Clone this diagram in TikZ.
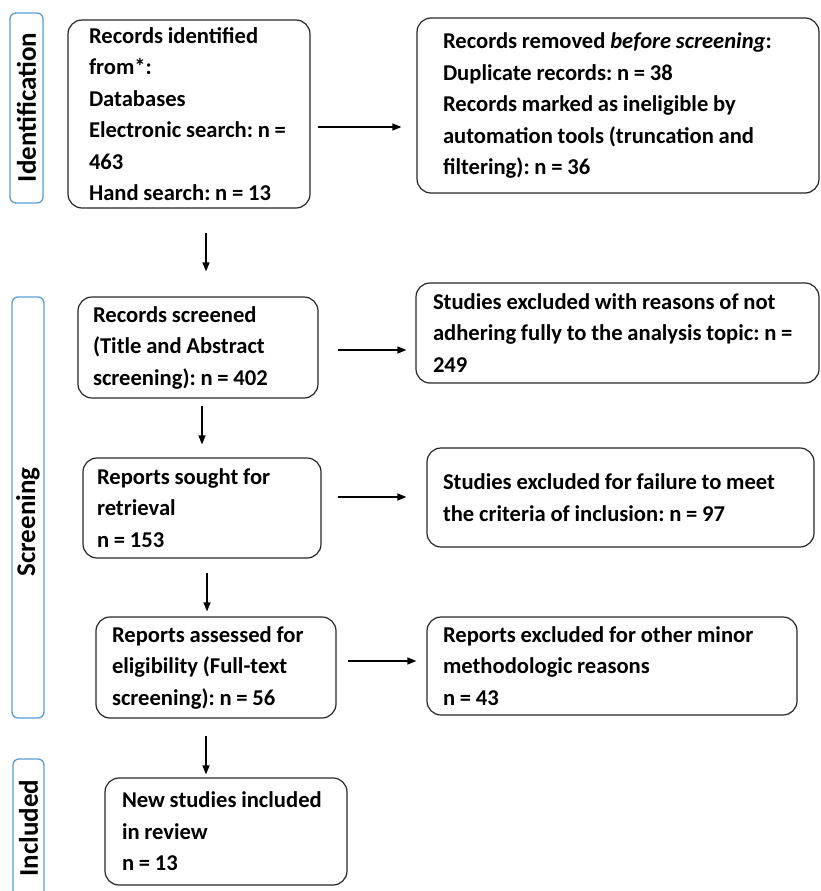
\documentclass[tikz,border=0pt]{standalone}
\usepackage{fontspec}
\setmainfont{Carlito}
\usepackage{tikz}
\usetikzlibrary{arrows.meta}
\definecolor{phaseblue}{RGB}{91,155,213}

\begin{document}
\begin{tikzpicture}[x=1pt,y=-1pt,
    flowbox/.style={draw=black!85, line width=1.2pt, rounded corners=14pt,
        align=left, anchor=center, inner ysep=0pt,
        font=\fontsize{22.6}{31.5}\selectfont\bfseries,
        execute at begin node={\frenchspacing\spaceskip=0.21em\relax}},
    phase/.style={draw=phaseblue, line width=1.3pt, rounded corners=6pt,
        rotate=90, inner sep=0pt},
    phasetext/.style={rotate=90, inner sep=0pt,
        font=\fontsize{27}{30}\selectfont\bfseries},
    flowarr/.style={-{Triangle[length=9pt,width=7pt]}, line width=1.2pt}]
    \useasboundingbox (0,0) rectangle (821,891);
    \clip (0,0) rectangle (821,891);

    % \draw[color=gray,step=50,dotted] (0,0) grid (821,891);

    % phases
    \node[phase, minimum width=190pt, minimum height=33pt] (idf) at (26.5,108) {};
    \node[phase, minimum width=421pt, minimum height=32pt] (scr) at (28,507.5) {};
    \node[phase, minimum width=200pt, minimum height=31pt] (inc) at (28.5,859) {};
    \node[phasetext] (idflabel) at (26.5,107.5) {Identification};
    \node[phasetext] (scrlabel) at (28,522) {Screening};
    \node[phasetext] (inclabel) at (28.5,828) {Included};

    % left column
    \node[flowbox, minimum width=242pt, minimum height=188pt, inner xsep=21pt, text width=200pt] (ident) at (189,114)
        {Records identified\\ from*:\\ Databases\\ Electronic search: n =\\ 463\\ Hand search: n = 13};
    \node[flowbox, minimum width=240pt, minimum height=101pt, inner xsep=15pt, text width=210pt] (screened) at (198,347.5)
        {Records screened\\ (Title and Abstract\\ screening): n = 402};
    \node[flowbox, minimum width=238pt, minimum height=100pt, inner xsep=14pt, text width=210pt] (sought) at (202,508)
        {Reports sought for\\ retrieval\\ n = 153};
    \node[flowbox, minimum width=240pt, minimum height=101pt, inner xsep=16pt, text width=208pt] (assessed) at (216,667.5)
        {Reports assessed for\\ eligibility (Full-text\\ screening): n = 56};
    \node[flowbox, minimum width=242pt, minimum height=107pt, inner xsep=17pt, text width=208pt] (included) at (226,831.5)
        {New studies included\\ in review\\ n = 13};

    % right column
    \node[flowbox, minimum width=402pt, minimum height=175pt, inner xsep=26pt, text width=350pt] (removed) at (618,105.5)
        {Records removed \textit{before screening}:\\ Duplicate records: n = 38\\ Records marked as ineligible by\\ automation tools (truncation and\\ filtering): n = 36};
    \node[flowbox, minimum width=403pt, minimum height=100pt, inner xsep=17pt, text width=369pt] (exctopic) at (617.5,333)
        {Studies excluded with reasons of not\\ adhering fully to the analysis topic: n =\\ 249};
    \node[flowbox, minimum width=387pt, minimum height=99pt, inner xsep=16pt, text width=355pt] (exccrit) at (620.5,497.5)
        {Studies excluded for failure to meet\\ the criteria of inclusion: n = 97};
    \node[flowbox, minimum width=370pt, minimum height=98pt, inner xsep=16pt, text width=338pt] (excminor) at (612,666)
        {Reports excluded for other minor\\ methodologic reasons\\ n = 43};

    % arrows
    \draw[flowarr, shorten <=24pt, shorten >=25pt] ([xshift=17pt]ident.south) -- ([xshift=8pt]screened.north);
    \draw[flowarr, shorten <=7pt, shorten >=15pt] ([yshift=-13pt]ident.east) -- ([yshift=-21.5pt]removed.west);
    \draw[flowarr, shorten <=19pt, shorten >=9pt] ([yshift=-2.5pt]screened.east) -- ([yshift=-17pt]exctopic.west);
    \draw[flowarr, shorten <=7pt, shorten >=13pt] ([xshift=4pt]screened.south) -- (sought.north);
    \draw[flowarr, shorten <=16pt, shorten >=20pt] ([yshift=11pt]sought.east) -- ([yshift=0.5pt]exccrit.west);
    \draw[flowarr, shorten <=14pt, shorten >=5pt] ([xshift=5pt]sought.south) -- ([xshift=-9pt]assessed.north);
    \draw[flowarr, shorten <=11pt, shorten >=10pt] ([yshift=6.5pt]assessed.east) -- ([yshift=5pt]excminor.west);
    \draw[flowarr, shorten <=17pt, shorten >=3pt] ([xshift=-10pt]assessed.south) -- ([xshift=-20pt]included.north);

\end{tikzpicture}
\end{document}
